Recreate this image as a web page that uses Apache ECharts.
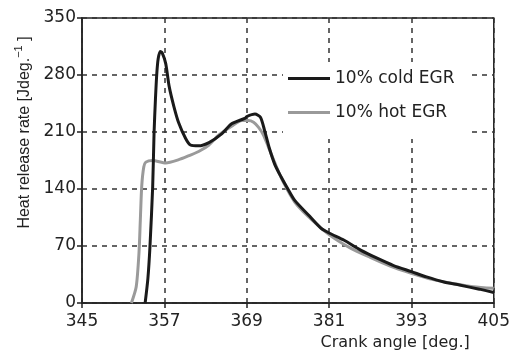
<!DOCTYPE html>
<html><head><meta charset="utf-8">
<script src="https://cdn.jsdelivr.net/npm/echarts@6/dist/echarts.min.js"></script>
<style>html,body{margin:0;padding:0;background:#fff}#c{width:513px;height:358px}</style>
</head><body><div id="c"></div>
<script>
var seriesNames = ['10% cold EGR', '10% hot EGR'];
var xTicks = [345, 357, 369, 381, 393, 405];
var yTicks = [0, 70, 140, 210, 280, 350];

var coldX = [354.2, 354.6, 354.9, 355.3, 355.5, 355.7, 355.9, 356.1, 356.4, 356.7, 357.2, 357.7, 358.4, 359.1, 360.1, 360.8, 362.0, 363.5, 365.4, 366.8, 368.8, 369.0, 370.2, 371.0, 371.6, 372.3, 373.1, 374.0, 375.0, 376.0, 378.0, 379.8, 381.0, 383.2, 385.6, 388.0, 390.4, 393.0, 395.2, 397.6, 400.0, 402.9, 405.0];
var coldY = [0, 30, 69, 143, 209, 250, 282, 300, 309, 307, 294, 266, 241, 221, 202, 194, 193, 197, 208, 220, 227, 229, 232, 228, 212, 190, 170, 155, 140, 126, 108, 92, 86, 77, 65, 55, 46, 38.5, 32, 26, 22, 17, 13];

var hotX = [352.2, 352.9, 353.3, 353.5, 353.7, 354.0, 354.3, 355.3, 357.2, 359.1, 360.6, 362.0, 363.5, 364.9, 366.8, 368.3, 369.2, 370.0, 370.7, 371.4, 372.1, 373.1, 374.3, 376.0, 378.0, 381.0, 384.0, 387.0, 390.0, 393.0, 396.0, 399.0, 402.0, 405.0];
var hotY = [0, 20, 61, 102, 143, 167, 173, 175, 172, 176, 181, 186, 194, 206, 217, 224, 224, 222, 216, 207, 193, 172, 149, 124, 106, 84, 68, 56, 45, 36.5, 29, 24, 20, 18];

function pairs(xs, ys) { return xs.map(function (x, i) { return [x, ys[i]]; }); }

var chart = echarts.init(document.getElementById('c'), null, {renderer: 'canvas'});
var axisColor = '#222';
var tickFont = {fontFamily: 'DejaVu Sans', fontSize: 17, color: '#222'};
chart.setOption({
  animation: false,
  backgroundColor: '#fff',
  grid: {left: 82, right: 15, top: 18, bottom: 55, show: true, borderColor: axisColor, borderWidth: 1.5, backgroundColor: 'transparent'},
  legend: {
    orient: 'vertical', left: 283, top: 62, z: 10,
    backgroundColor: '#ffffff', padding: [8, 14, 18, 5],
    itemWidth: 42, itemHeight: 3, itemGap: 17, icon: 'rect',
    textStyle: {fontFamily: 'DejaVu Sans', fontSize: 17, color: '#222'},
    data: seriesNames
  },
  xAxis: {
    type: 'value', min: xTicks[0], max: xTicks[xTicks.length - 1], interval: 12,
    name: 'Crank angle [deg.]', nameLocation: 'end', nameGap: -24,
    nameTextStyle: {fontFamily: 'DejaVu Sans', fontSize: 16, color: '#222', align: 'right', verticalAlign: 'top', padding: [32, 0, 0, 0]},
    axisLine: {show: true, lineStyle: {color: axisColor, width: 1.5}},
    axisTick: {show: true, inside: false, length: 5, lineStyle: {color: axisColor, width: 1.5}},
    axisLabel: Object.assign({margin: 10}, tickFont),
    splitLine: {show: true, lineStyle: {color: '#333', type: [5, 5], width: 1.5}}
  },
  yAxis: {
    type: 'value', min: yTicks[0], max: yTicks[yTicks.length - 1], interval: 70,
    name: '{m|Heat release rate [Jdeg.}{s|−1}{m| ]}', nameLocation: 'middle', nameRotate: 90, nameGap: 37,
    nameTextStyle: {padding: [0, 0, 0, 56], rich: {
      m: {fontFamily: 'Liberation Sans', fontSize: 16, color: '#222', lineHeight: 22},
      s: {fontFamily: 'Liberation Sans', fontSize: 11, color: '#222', verticalAlign: 'top', lineHeight: 12}
    }},
    axisLine: {show: true, lineStyle: {color: axisColor, width: 1.5}},
    axisTick: {show: true, inside: false, length: 5, lineStyle: {color: axisColor, width: 1.5}},
    axisLabel: Object.assign({margin: 6}, tickFont),
    splitLine: {show: true, lineStyle: {color: '#333', type: [5, 5], width: 1.5}}
  },
  series: [
    {name: seriesNames[1], type: 'line', data: pairs(hotX, hotY), showSymbol: false, symbol: 'none', smooth: 0.25,
      lineStyle: {color: '#9a9a9a', width: 3}, itemStyle: {color: '#9a9a9a'}, z: 2},
    {name: seriesNames[0], type: 'line', data: pairs(coldX, coldY), showSymbol: false, symbol: 'none', smooth: 0.25,
      lineStyle: {color: '#1a1a1a', width: 3}, itemStyle: {color: '#1a1a1a'}, z: 3}
  ]
});
</script></body></html>
